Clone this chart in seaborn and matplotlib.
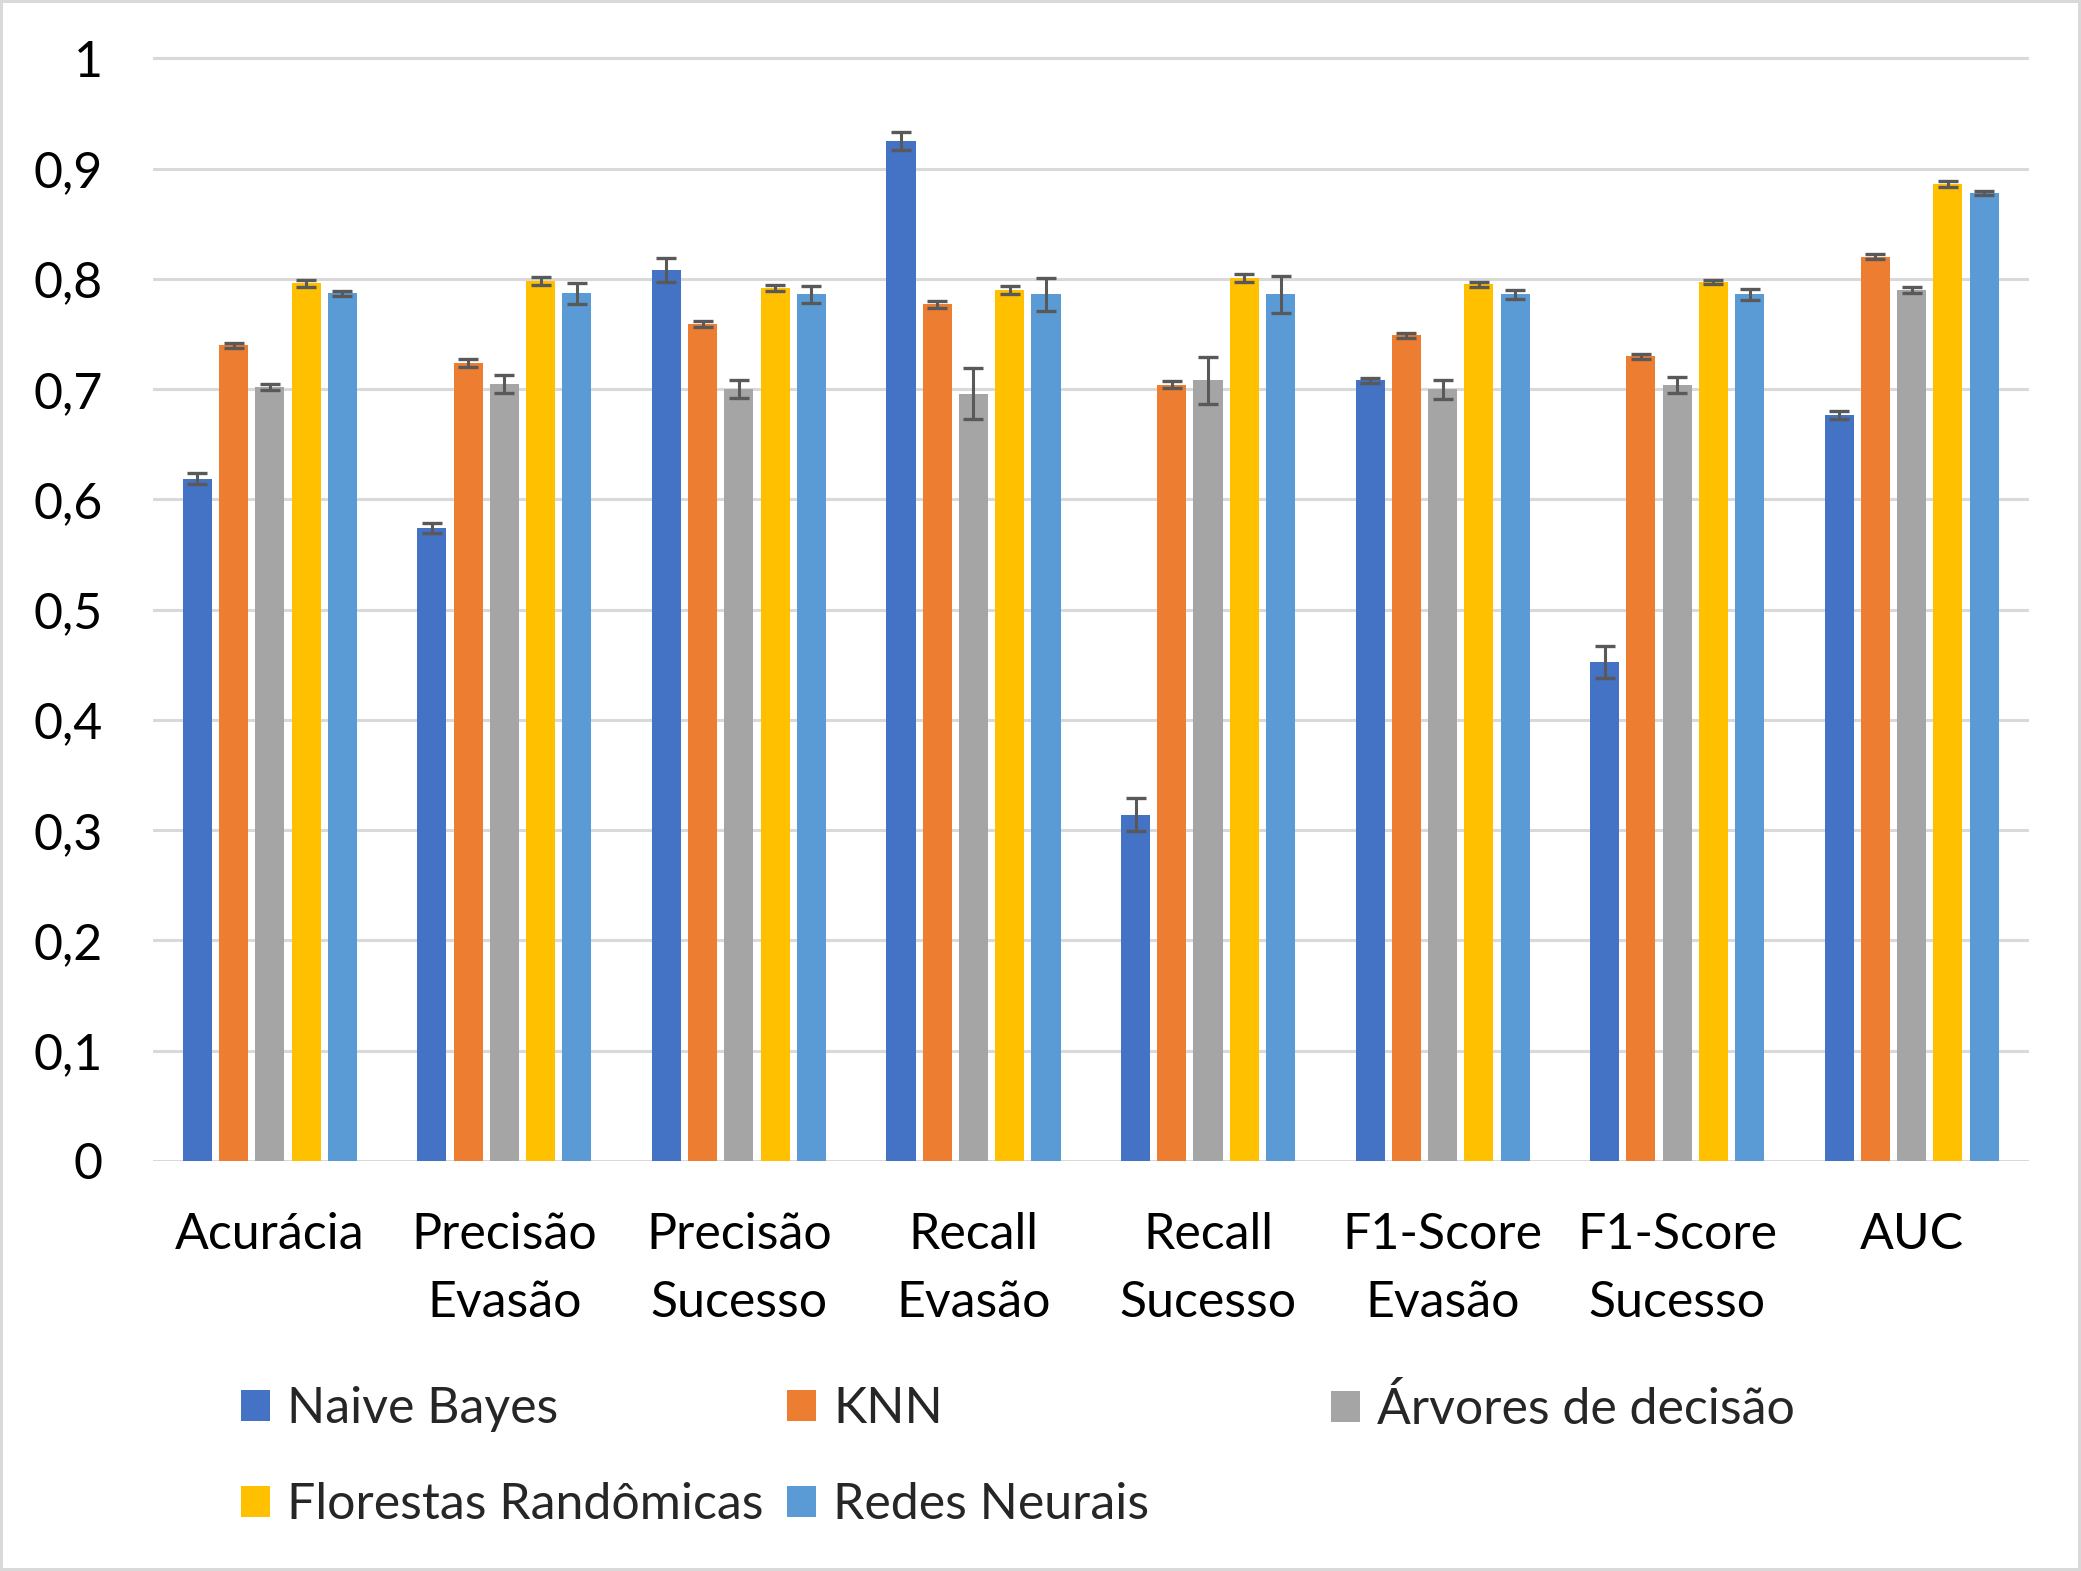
import matplotlib
matplotlib.use("Agg")
import matplotlib.pyplot as plt
from matplotlib.patches import Patch
import seaborn as sns
import pandas as pd

metrics = ["Acurácia", "Precisão\nEvasão", "Precisão\nSucesso", "Recall\nEvasão",
           "Recall\nSucesso", "F1-Score\nEvasão", "F1-Score\nSucesso", "AUC"]
models = ["Naive Bayes", "KNN", "Árvores de decisão", "Florestas Randômicas", "Redes Neurais"]
colors = ["#4472C4", "#ED7D31", "#A5A5A5", "#FFC000", "#5B9BD5"]

naive_bayes = [0.619, 0.574, 0.808, 0.925, 0.314, 0.708, 0.453, 0.677]
naive_bayes_err = [0.005, 0.0045, 0.011, 0.008, 0.015, 0.0026, 0.0145, 0.0036]
knn = [0.740, 0.724, 0.759, 0.777, 0.704, 0.749, 0.730, 0.820]
knn_err = [0.0023, 0.0036, 0.0026, 0.003, 0.0033, 0.0023, 0.0023, 0.0023]
arvores = [0.702, 0.705, 0.700, 0.696, 0.708, 0.700, 0.704, 0.790]
arvores_err = [0.003, 0.008, 0.0083, 0.023, 0.021, 0.0086, 0.007, 0.003]
florestas = [0.796, 0.798, 0.792, 0.790, 0.801, 0.795, 0.797, 0.886]
florestas_err = [0.003, 0.0035, 0.0026, 0.0033, 0.0035, 0.002, 0.002, 0.0024]
redes = [0.787, 0.787, 0.786, 0.786, 0.786, 0.786, 0.786, 0.878]
redes_err = [0.0023, 0.0095, 0.008, 0.015, 0.0165, 0.0038, 0.005, 0.002]

yticks = [0, 0.1, 0.2, 0.3, 0.4, 0.5, 0.6, 0.7, 0.8, 0.9, 1.0]
ytick_labels = ["0", "0,1", "0,2", "0,3", "0,4", "0,5", "0,6", "0,7", "0,8", "0,9", "1"]

values = [naive_bayes, knn, arvores, florestas, redes]
errors = [naive_bayes_err, knn_err, arvores_err, florestas_err, redes_err]

rows = []
for m, vals in zip(models, values):
    for met, v in zip(metrics, vals):
        rows.append({"Métrica": met, "Modelo": m, "Valor": v})
df = pd.DataFrame(rows)

sns.set_theme(style="white")
plt.rcParams["font.family"] = ["Lato", "DejaVu Sans"]

FS = 36

fig = plt.figure(figsize=(20.81, 15.71), dpi=100)
ax = fig.add_axes([0.0733, 0.261, 0.9017, 0.7032])

sns.barplot(data=df, x="Métrica", y="Valor", hue="Modelo", order=metrics,
            hue_order=models, palette=colors, width=0.7725, gap=0.197,
            errorbar=None, legend=False, linewidth=0, saturation=1, ax=ax)

for cont, errs in zip(ax.containers, errors):
    xs = [b.get_x() + b.get_width() / 2 for b in cont]
    hs = [b.get_height() for b in cont]
    ax.errorbar(xs, hs, yerr=errs, fmt="none", ecolor="#595959",
                elinewidth=2.2, capsize=7.2, capthick=2.4, zorder=5)

ax.set_ylim(0, 1.002)
ax.set_xlim(-0.5, len(metrics) - 0.5)
ax.set_yticks(yticks)
ax.set_yticklabels(ytick_labels)
ax.yaxis.grid(True, color="#D9D9D9", linewidth=2.2)
ax.set_axisbelow(True)
for s in ax.spines.values():
    s.set_visible(False)
ax.tick_params(axis="y", length=0, pad=36, labelsize=FS, labelcolor="black")
ax.tick_params(axis="x", length=0, pad=37, labelsize=FS, labelcolor="black")
for lbl in ax.get_xticklabels():
    lbl.set_linespacing(1.59)
ax.set_xlabel("")
ax.set_ylabel("")

handles = [Patch(facecolor=c, edgecolor="none") for c in colors]
leg_kw = dict(loc="upper left", frameon=False, fontsize=FS, ncol=1,
              handlelength=0.58, handleheight=0.58, handletextpad=0.34,
              labelspacing=1.0, borderpad=0, borderaxespad=0)
cols = [(0, 3), (1, 4), (2,)]
xpos = [241, 787, 1331]
for idxs, xp in zip(cols, xpos):
    fig.legend([handles[i] for i in idxs], [models[i] for i in idxs],
               bbox_to_anchor=(xp / 2081, 1 - 1386 / 1571), **leg_kw)

fig.patch.set_edgecolor("#D9D9D9")
fig.patch.set_linewidth(4)

fig.savefig("out.png", dpi=100)
